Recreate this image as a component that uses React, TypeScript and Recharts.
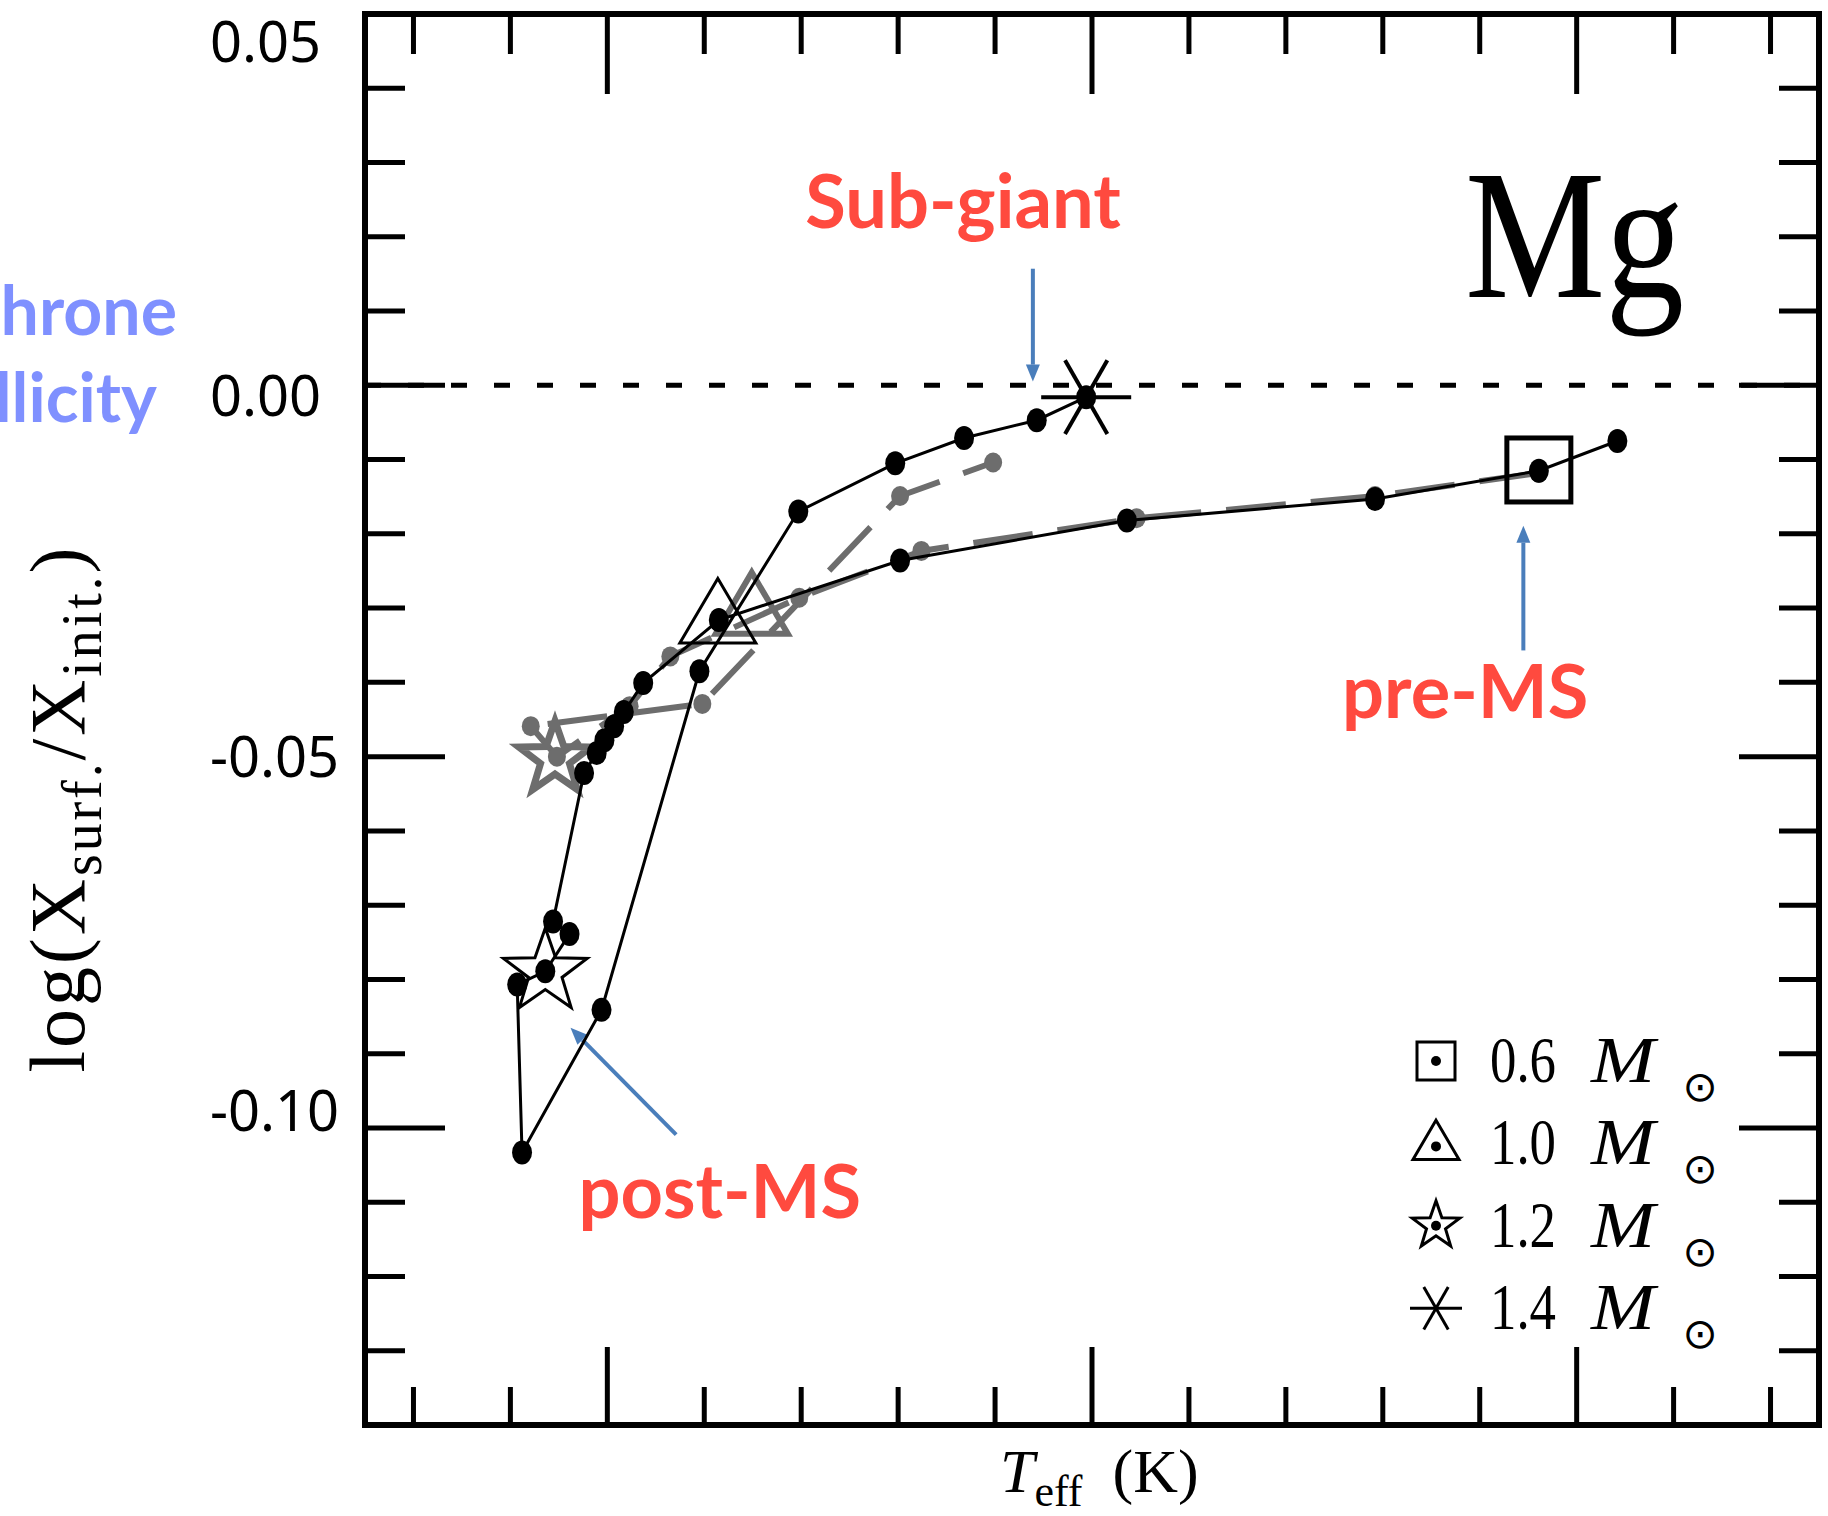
import React from 'react';
import { ScatterChart, Scatter, XAxis, YAxis, ReferenceLine, ReferenceDot } from 'recharts';

const W = 1828;
const H = 1516;

// x axis: Teff in minor-tick steps (the original prints no tick values)
const xTicks = [0, 1, 2, 3, 4, 5, 6, 7, 8, 9, 10, 11, 12, 13, 14];
const xMajor = [2, 7, 12];
const yTicks = [0.05, 0.04, 0.03, 0.02, 0.01, 0, -0.01, -0.02, -0.03, -0.04, -0.05, -0.06, -0.07, -0.08, -0.09, -0.1, -0.11, -0.12, -0.13];
const yMajor = [0.05, 0, -0.05, -0.1];
const yMajorLabels = ['0.05', '0.00', '-0.05', '-0.10'];

// solid black isochrone, in track order
const blackTeff = [12.42, 11.61, 9.92, 7.36, 5.02, 3.15, 2.37, 2.17, 2.07, 1.97, 1.89, 1.76, 1.44, 1.61, 1.36, 1.07, 1.12, 1.94, 2.95, 3.97, 4.97, 5.68, 6.43, 6.94];
const blackLogX = [-0.0075, -0.0115, -0.0153, -0.0182, -0.0236, -0.0316, -0.0401, -0.044, -0.0459, -0.0478, -0.0495, -0.0522, -0.0722, -0.0739, -0.0789, -0.0807, -0.1033, -0.0841, -0.0385, -0.017, -0.0105, -0.0071, -0.0047, -0.0016];

// grey dashed isochrone
const greyTeff = [11.61, 9.92, 7.46, 5.24, 3.98, 2.65, 2.23, 1.48, 1.21, 2.98, 5.02, 5.98];
const greyLogX = [-0.0118, -0.0149, -0.0179, -0.0223, -0.0286, -0.0365, -0.0432, -0.05, -0.0459, -0.0429, -0.0149, -0.0104];

// stellar masses and their markers
const masses = ['0.6', '1.0', '1.2', '1.4'];
const massMarkers = ['square', 'triangle', 'star', 'asterisk'];
const blackMarkTeff = [11.61, 3.14, 1.36, 6.94];
const blackMarkLogX = [-0.0114, -0.0318, -0.079, -0.0016];
const greyMarkMass = ['1.0', '1.2'];
const greyMarkTeff = [3.49, 1.46];
const greyMarkLogX = [-0.0307, -0.0503];

// annotations
const notes = ['Sub-giant', 'pre-MS', 'post-MS'];
const noteTeff = [5.67, 10.85, 3.16];
const noteLogX = [0.0212, -0.0448, -0.1121];
const arrowFromTeff = [6.39, 11.45, 2.71];
const arrowFromLogX = [0.0157, -0.0357, -0.1009];
const arrowToTeff = [6.39, 11.45, 1.62];
const arrowToLogX = [0.0005, -0.0189, -0.0865];

const GREY = '#6d6d6d';
const BLUE = '#4a7ebb';
const RED = '#ff4a3f';
const SERIF = '"Liberation Serif", serif';

const frame = { stroke: '#000', strokeWidth: 6, strokeLinecap: 'square' as const };
const near = (v: number, list: number[]) => list.findIndex((m) => Math.abs(m - v) < 1e-9);

const labelNudge = [48, 31, 20, 3];

function LeftTick(p: any) {
  const i = near(p.payload.value, yMajor);
  const len = i >= 0 ? 80 : 40;
  return (
    <g>
      <line x1={p.x} y1={p.y} x2={p.x + len} y2={p.y} stroke="#000" strokeWidth={5} />
      {i >= 0 && (
        <text x={p.x - 155} y={p.y + labelNudge[i]} fontFamily='"Noto Sans", sans-serif' fontSize={56} fill="#000">
          {yMajorLabels[i]}
        </text>
      )}
    </g>
  );
}

function RightTick(p: any) {
  const len = near(p.payload.value, yMajor) >= 0 ? 80 : 40;
  return <line x1={p.x} y1={p.y} x2={p.x - len} y2={p.y} stroke="#000" strokeWidth={5} />;
}

function BottomTick(p: any) {
  const len = near(p.payload.value, xMajor) >= 0 ? 78 : 38;
  return <line x1={p.x} y1={p.y} x2={p.x} y2={p.y - len} stroke="#000" strokeWidth={5} />;
}

function TopTick(p: any) {
  const len = near(p.payload.value, xMajor) >= 0 ? 80 : 40;
  return <line x1={p.x} y1={p.y} x2={p.x} y2={p.y + len} stroke="#000" strokeWidth={5} />;
}

function marker(kind: string, cx: number, cy: number, s: number, color: string, sw: number) {
  if (kind === 'square') {
    return <rect x={cx - s} y={cy - s} width={2 * s} height={2 * s} fill="none" stroke={color} strokeWidth={sw} />;
  }
  if (kind === 'triangle') {
    const h = s * 1.7;
    return (
      <polygon
        points={`${cx},${cy - (h * 2) / 3} ${cx + s},${cy + h / 3} ${cx - s},${cy + h / 3}`}
        fill="none"
        stroke={color}
        strokeWidth={sw}
      />
    );
  }
  if (kind === 'star') {
    const pts: string[] = [];
    for (let k = 0; k < 10; k++) {
      const a = -Math.PI / 2 + (k * Math.PI) / 5;
      const r = k % 2 === 0 ? s : s * 0.4;
      pts.push(`${cx + r * Math.cos(a)},${cy + r * Math.sin(a)}`);
    }
    return <polygon points={pts.join(' ')} fill="none" stroke={color} strokeWidth={sw} />;
  }
  const dx = s * 0.47;
  const dy = s * 0.82;
  return (
    <g stroke={color} strokeWidth={sw}>
      <line x1={cx - s} y1={cy} x2={cx + s} y2={cy} />
      <line x1={cx - dx} y1={cy - dy} x2={cx + dx} y2={cy + dy} />
      <line x1={cx + dx} y1={cy - dy} x2={cx - dx} y2={cy + dy} />
    </g>
  );
}

function Arrow(p: any) {
  const { x1, y1, x2, y2 } = p;
  const a = Math.atan2(y2 - y1, x2 - x1);
  const L = 17;
  const hw = 7;
  const bx = x2 - L * Math.cos(a);
  const by = y2 - L * Math.sin(a);
  const nx = -Math.sin(a) * hw;
  const ny = Math.cos(a) * hw;
  return (
    <g>
      <line x1={x1} y1={y1} x2={bx} y2={by} stroke={BLUE} strokeWidth={4} />
      <polygon points={`${x2},${y2} ${bx + nx},${by + ny} ${bx - nx},${by - ny}`} fill={BLUE} />
    </g>
  );
}

export default function App() {
  const black = blackTeff.map((x, i) => ({ x, y: blackLogX[i] }));
  const grey = greyTeff.map((x, i) => ({ x, y: greyLogX[i] }));
  const blackMarks = masses.map((m, i) => ({ x: blackMarkTeff[i], y: blackMarkLogX[i], kind: massMarkers[i] }));
  const greyMarks = greyMarkMass.map((m, i) => ({
    x: greyMarkTeff[i],
    y: greyMarkLogX[i],
    kind: massMarkers[masses.indexOf(m)],
  }));

  return (
    <div style={{ position: 'absolute', left: 0, top: 0, width: W, height: H, background: '#fff' }}>
      <ScatterChart width={W} height={H} margin={{ top: 13, right: 8, bottom: 90, left: 364 }}>
        <XAxis
          type="number"
          dataKey="x"
          domain={[-0.5, 14.5]}
          ticks={xTicks}
          interval={0}
          height={1}
          tickSize={0}
          tickMargin={0}
          tickLine={false}
          axisLine={frame}
          tick={(p: any) => <BottomTick {...p} />}
          allowDataOverflow
        />
        <XAxis
          xAxisId="top"
          orientation="top"
          type="number"
          dataKey="x"
          domain={[-0.5, 14.5]}
          ticks={xTicks}
          interval={0}
          height={1}
          tickSize={0}
          tickMargin={0}
          tickLine={false}
          axisLine={frame}
          tick={(p: any) => <TopTick {...p} />}
          allowDataOverflow
        />
        <YAxis
          type="number"
          dataKey="y"
          domain={[-0.14, 0.05]}
          ticks={yTicks}
          interval={0}
          width={1}
          tickSize={0}
          tickMargin={0}
          tickLine={false}
          axisLine={frame}
          tick={(p: any) => <LeftTick {...p} />}
          allowDataOverflow
        />
        <YAxis
          yAxisId="right"
          orientation="right"
          type="number"
          dataKey="y"
          domain={[-0.14, 0.05]}
          ticks={yTicks}
          interval={0}
          width={1}
          tickSize={0}
          tickMargin={0}
          tickLine={false}
          axisLine={frame}
          tick={(p: any) => <RightTick {...p} />}
          allowDataOverflow
        />

        <ReferenceLine y={0} stroke="#000" strokeWidth={5} strokeDasharray="16 27" />

        <Scatter
          name="grey isochrone"
          data={grey}
          isAnimationActive={false}
          line={{ stroke: GREY, strokeWidth: 6, strokeDasharray: '60 25' }}
          shape={(p: any) => <ellipse cx={p.cx} cy={p.cy} rx={9} ry={10} fill={GREY} />}
        />
        <Scatter
          name="grey markers"
          data={greyMarks}
          isAnimationActive={false}
          shape={(p: any) => marker(p.payload.kind, p.cx, p.cy, p.payload.kind === 'star' ? 38 : 36, GREY, p.payload.kind === 'star' ? 7 : 6)}
        />
        <Scatter
          name="black isochrone"
          data={black}
          isAnimationActive={false}
          line={{ stroke: '#000', strokeWidth: 3 }}
          shape={(p: any) => <ellipse cx={p.cx} cy={p.cy} rx={10} ry={12} fill="#000" />}
        />
        <Scatter
          name="black markers"
          data={blackMarks}
          isAnimationActive={false}
          shape={(p: any) => {
            const k = p.payload.kind;
            const s = k === 'square' ? 32 : k === 'triangle' ? 38 : k === 'star' ? 44 : 45;
            const sw = k === 'square' ? 5 : k === 'asterisk' ? 4 : 3;
            return marker(k, p.cx, p.cy, s, '#000', sw);
          }}
        />
        <Scatter xAxisId="top" yAxisId="right" data={black} isAnimationActive={false} shape={() => <g />} />

        {notes.map((n, i) => (
          <ReferenceLine
            key={'a' + n}
            segment={[
              { x: arrowFromTeff[i], y: arrowFromLogX[i] },
              { x: arrowToTeff[i], y: arrowToLogX[i] },
            ]}
            shape={(p: any) => <Arrow {...p} />}
          />
        ))}
        {notes.map((n, i) => (
          <ReferenceDot
            key={'n' + n}
            x={noteTeff[i]}
            y={noteLogX[i]}
            r={0}
            shape={(p: any) => (
              <text
                x={p.cx}
                y={p.cy}
                textAnchor="middle"
                fontFamily="Lato, sans-serif"
                fontWeight={700}
                fontSize={74}
                fill={RED}
              >
                {n}
              </text>
            )}
          />
        ))}
      </ScatterChart>

      <svg width={W} height={H} style={{ position: 'absolute', left: 0, top: 0, pointerEvents: 'none' }}>
        <text x={177} y={335} textAnchor="end" fontFamily="Lato, sans-serif" fontWeight={700} fontSize={68} fill="#7f90ff">
          hrone
        </text>
        <text x={157} y={422} textAnchor="end" fontFamily="Lato, sans-serif" fontWeight={700} fontSize={68} fill="#7f90ff">
          llicity
        </text>

        <text
          x={84}
          y={810}
          transform="rotate(-90 84 810)"
          textAnchor="middle"
          fontFamily={SERIF}
          fontSize={78}
          fill="#000"
          textLength={525}
        >
          log(X<tspan fontSize={56} dy={17}>surf.</tspan>
          <tspan dy={-17}>/X</tspan>
          <tspan fontSize={56} dy={17}>init.</tspan>
          <tspan dy={-17}>)</tspan>
        </text>

        <text x={1000} y={1492} fontFamily={SERIF} fontSize={62} fill="#000">
          <tspan fontStyle="italic">T</tspan>
          <tspan fontSize={44} dy={14}>eff</tspan>
          <tspan dx={30} dy={-14}>(K)</tspan>
        </text>

        <text x={1465} y={297} fontFamily={SERIF} fontSize={185} fill="#000" textLength={219} lengthAdjust="spacingAndGlyphs">
          Mg
        </text>

        {masses.map((m, i) => {
          const base = 1082 + i * 82.4;
          const cy = base - 21;
          const kind = massMarkers[i];
          const s = kind === 'square' ? 19 : kind === 'triangle' ? 23 : kind === 'star' ? 25 : 26;
          return (
            <g key={m}>
              {marker(kind, 1436, kind === 'triangle' ? cy + 3 : cy, s, '#000', 3)}
              {kind !== 'asterisk' && <circle cx={1436} cy={kind === 'triangle' ? cy + 3 : cy} r={5} fill="#000" />}
              <text x={1490} y={base} fontFamily={SERIF} fontSize={66} fill="#000" textLength={66} lengthAdjust="spacingAndGlyphs">
                {m}
              </text>
              <text x={1591} y={base} fontFamily={SERIF} fontStyle="italic" fontSize={66} fill="#000" textLength={64} lengthAdjust="spacingAndGlyphs">
                M
              </text>
              <text x={1700} y={base + 19} textAnchor="middle" fontFamily='"DejaVu Sans", sans-serif' fontSize={42} fill="#000">
                ⊙
              </text>
            </g>
          );
        })}
      </svg>
    </div>
  );
}
